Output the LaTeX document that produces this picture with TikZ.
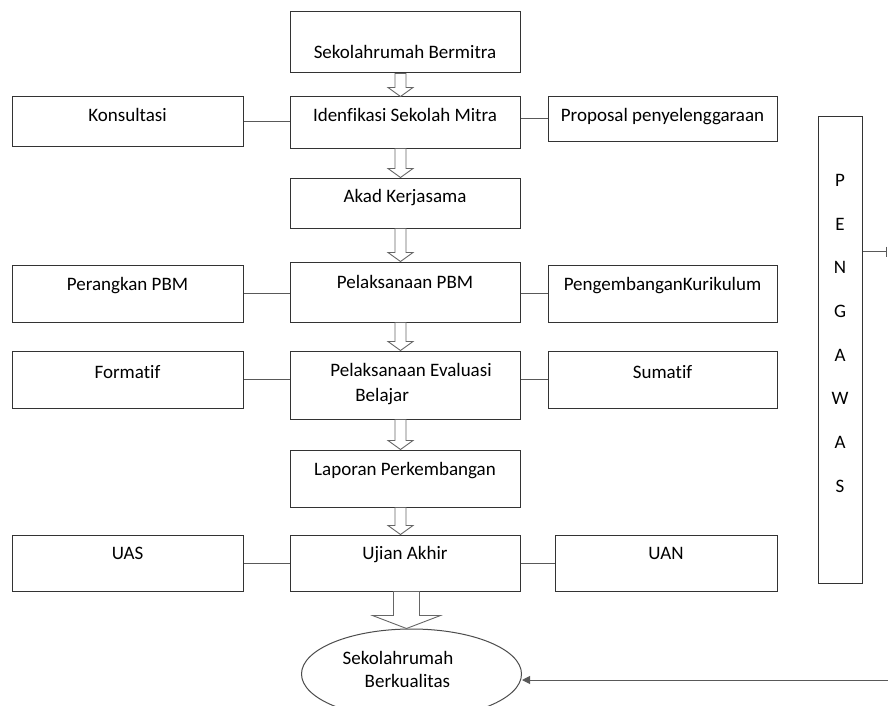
\documentclass[tikz,border=0pt]{standalone}
\usepackage{fontspec}
\setmainfont{Carlito}[Ligatures=NoCommon]
\usetikzlibrary{shapes.geometric,arrows.meta,calc}
\newcommand{\lifted}[2]{\raisebox{#1pt}[0pt][0pt]{#2}}
\begin{document}
\begin{tikzpicture}[x=1pt,y=-1pt,
  font=\fontsize{19}{23}\selectfont,
  box/.style={draw=black!80, line width=1pt, inner sep=0pt, fill=white},
  ell/.style={draw=black!70, line width=1pt, ellipse, inner sep=0pt, fill=white},
  conn/.style={draw=black!65, line width=1pt},
  barrow/.style n args={3}{draw=black!60, line width=0.9pt, fill=white,
    to path={let \p1=(\tikztostart), \p2=(\tikztotarget) in
      (\x1-#1,\y1) -- (\x1+#1,\y1) -- (\x1+#1,\y2+#3) -- (\x1+#2,\y2+#3)
      -- (\x1,\y2) -- (\x1-#2,\y2+#3) -- (\x1-#1,\y2+#3) -- cycle}}]
\useasboundingbox (0,0) rectangle (888,706);

% centre column
\node[box, minimum width=230pt, minimum height=61pt] (sb) at (405,42.5) {\lifted{-16.5}{Sekolahrumah Bermitra}};
\node[box, minimum width=230pt, minimum height=51pt] (id) at (405,122.5) {\lifted{1.5}{Idenfikasi Sekolah Mitra}};
\node[box, minimum width=230pt, minimum height=50pt] (akad) at (405,203) {\lifted{1}{Akad Kerjasama}};
\node[box, minimum width=230pt, minimum height=60pt] (ppbm) at (405,292) {\lifted{4}{Pelaksanaan PBM}};
\node[box, minimum width=230pt, minimum height=68pt] (eval) at (405,385) {\lifted{-3.6}{\hspace{12pt}\begin{tabular}{@{}l@{}}Pelaksanaan Evaluasi\\[2pt]\hspace*{25pt}Belajar\end{tabular}}};
\node[box, minimum width=230pt, minimum height=57pt] (lap) at (405,478.5) {\lifted{3.5}{Laporan Perkembangan}};
\node[box, minimum width=230pt, minimum height=56pt] (uj) at (405,563) {\lifted{4}{Ujian Akhir}};
\node[ell, minimum width=220pt, minimum height=90pt] (ell) at (411.5,674) {\lifted{-1.6}{\begin{tabular}{@{}l@{}}Sekolahrumah\\\hspace*{22pt}Berkualitas\end{tabular}\hspace{27pt}}};

% left column
\node[box, minimum width=231pt, minimum height=49pt] (kon) at (127.5,121.5) {\lifted{0.5}{Konsultasi}};
\node[box, minimum width=231pt, minimum height=57pt] (perang) at (127.5,293.5) {\lifted{3.5}{Perangkan PBM}};
\node[box, minimum width=231pt, minimum height=57pt] (form) at (127.5,379.5) {\lifted{1.5}{Formatif}};
\node[box, minimum width=231pt, minimum height=56pt] (uas) at (127.5,563) {\lifted{4}{UAS}};

% right column
\node[box, minimum width=229pt, minimum height=44pt] (prop) at (662.5,119) {\lifted{-2}{Proposal penyelenggaraan}};
\node[box, minimum width=229pt, minimum height=57pt] (kur) at (662.5,293.5) {\lifted{3.5}{PengembanganKurikulum}};
\node[box, minimum width=229pt, minimum height=57pt] (sum) at (662.5,379.5) {\lifted{1.5}{Sumatif}};
\node[box, minimum width=222pt, minimum height=56pt] (uan) at (666,563) {\lifted{4}{UAN}};

% supervisor
\node[box, minimum width=44pt, minimum height=466pt] (peng) at (840,350) {\lifted{15}{\def\arraystretch{1.9}\begin{tabular}{@{}c@{}}P\\E\\N\\G\\A\\W\\A\\S\end{tabular}}};
\coordinate (pend) at (886.5,251.5);
\coordinate (bend) at (888,680);

% side connectors
\draw[conn] (kon.east) -- (kon.east -| id.west);
\draw[conn] (prop.west) -- (prop.west -| id.east);
\draw[conn] (perang.east) -- (perang.east -| ppbm.west);
\draw[conn] (kur.west) -- (kur.west -| ppbm.east);
\draw[conn] (form.east) -- (form.east -| eval.west);
\draw[conn] (sum.west) -- (sum.west -| eval.east);
\draw[conn] (uas.east) -- (uas.east -| uj.west);
\draw[conn] (uan.west) -- (uan.west -| uj.east);
\draw[conn, -{Bar[width=10pt,line width=1pt]}] (peng.east |- pend) -- (pend);
\draw[conn, -{Triangle[length=8pt,width=8pt]}] (bend) -- (bend -| ell.east);

% block arrows
\draw[barrow={5.5pt}{12.5pt}{9pt}] ([xshift=-4.5pt]sb.south) to ([xshift=-4.5pt]id.north);
\draw[barrow={5.5pt}{12.5pt}{9pt}] ([xshift=-4.5pt]id.south) to ([xshift=-4.5pt]akad.north);
\draw[barrow={5.5pt}{12.5pt}{9pt}] ([xshift=-4.5pt]akad.south) to ([xshift=-4.5pt]ppbm.north);
\draw[barrow={5.5pt}{12.5pt}{9pt}] ([xshift=-4.5pt]ppbm.south) to ([xshift=-4.5pt]eval.north);
\draw[barrow={5.5pt}{12.5pt}{9pt}] ([xshift=-4.5pt]eval.south) to ([xshift=-4.5pt]lap.north);
\draw[barrow={5.5pt}{12.5pt}{9pt}] ([xshift=-4.5pt]lap.south) to ([xshift=-4.5pt]uj.north);
\draw[barrow={13pt}{34pt}{13pt}] ([xshift=1.5pt]uj.south) to ([xshift=1.5pt]ell.north);
\end{tikzpicture}
\end{document}
